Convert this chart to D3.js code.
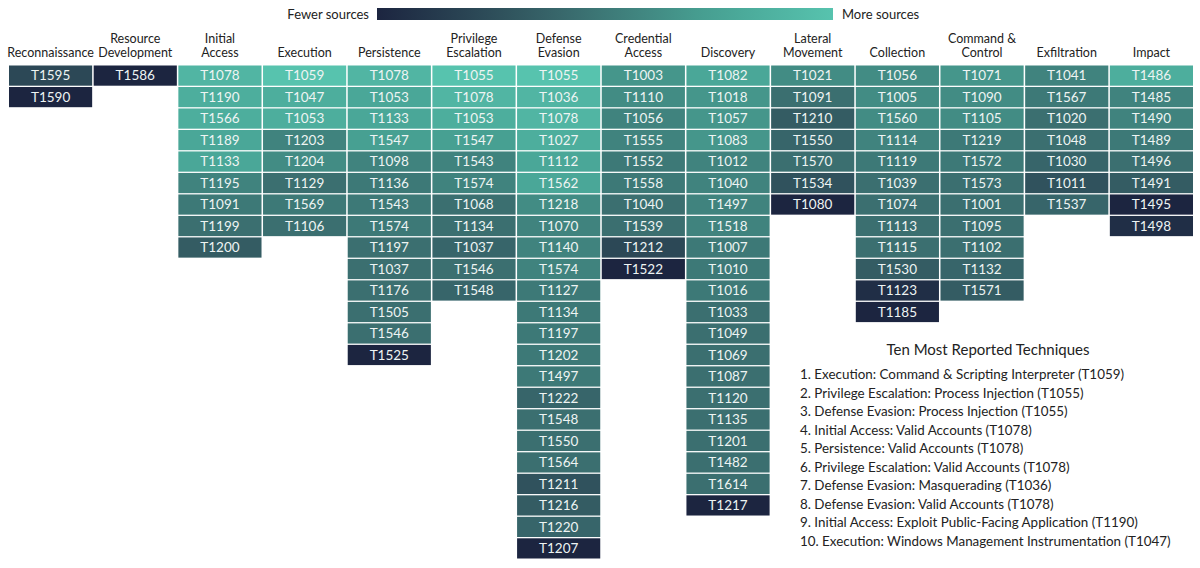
<!DOCTYPE html>
<html><head><meta charset="utf-8">
<script src="https://cdn.jsdelivr.net/npm/d3@7"></script>
<style>body{margin:0;background:#fff;} svg{display:block;}</style>
</head><body>
<svg id="chart" width="1200" height="568"></svg>
<script>
const tactics = ["Reconnaissance","Resource Development","Initial Access","Execution","Persistence","Privilege Escalation","Defense Evasion","Credential Access","Discovery","Lateral Movement","Collection","Command & Control","Exfiltration","Impact"];
const tacticLines = [["Reconnaissance"],["Resource","Development"],["Initial","Access"],["Execution"],["Persistence"],["Privilege","Escalation"],["Defense","Evasion"],["Credential","Access"],["Discovery"],["Lateral","Movement"],["Collection"],["Command &","Control"],["Exfiltration"],["Impact"]];

const reconIds = ["T1595","T1590"], reconVals = [3,1];
const resdevIds = ["T1586"], resdevVals = [1];
const initIds = ["T1078","T1190","T1566","T1189","T1133","T1195","T1091","T1199","T1200"], initVals = [9,8.5,8.5,8,8,6,5.5,5,4];
const execIds = ["T1059","T1047","T1053","T1203","T1204","T1129","T1569","T1106"], execVals = [10,8.5,8.5,6,6.5,5,5.5,5];
const persIds = ["T1078","T1053","T1133","T1547","T1098","T1136","T1543","T1574","T1197","T1037","T1176","T1505","T1546","T1525"], persVals = [9,8,8,7.5,6,5.5,5.5,5.5,5,5,5,5,5,1];
const privIds = ["T1055","T1078","T1053","T1547","T1543","T1574","T1068","T1134","T1037","T1546","T1548"], privVals = [10,9,8.5,7.5,6,6,5,5,4.5,5,4.5];
const defIds = ["T1055","T1036","T1078","T1027","T1112","T1562","T1218","T1070","T1140","T1574","T1127","T1134","T1197","T1202","T1497","T1222","T1548","T1550","T1564","T1211","T1216","T1220","T1207"], defVals = [10,9,9,8.5,8,8,6.5,6,6,6,5.5,5.5,5.5,5.5,5.5,4.5,5,5,5,3.5,4,4.5,1];
const credIds = ["T1003","T1110","T1056","T1555","T1552","T1558","T1040","T1539","T1212","T1522"], credVals = [7,6.5,6,6,5.5,5.5,5,5,3,1];
const discIds = ["T1082","T1018","T1057","T1083","T1012","T1040","T1497","T1518","T1007","T1010","T1016","T1033","T1049","T1069","T1087","T1120","T1135","T1201","T1482","T1614","T1217"], discVals = [8,7,7,7,6,6,6,6,5.5,5.5,5.5,5,5,5,5,5,5,5,5,5,1];
const latIds = ["T1021","T1091","T1210","T1550","T1570","T1534","T1080"], latVals = [6.5,5,4,4.5,5,3.5,1];
const collIds = ["T1056","T1005","T1560","T1114","T1119","T1039","T1074","T1113","T1115","T1530","T1123","T1185"], collVals = [6.5,6.5,6.5,6,5.5,5,5,5,5,4,1.5,1];
const c2Ids = ["T1071","T1090","T1105","T1219","T1572","T1573","T1001","T1095","T1102","T1132","T1571"], c2Vals = [7,6.5,6.5,5.5,5.5,5,5,5,5,4.5,4];
const exfilIds = ["T1041","T1567","T1020","T1048","T1030","T1011","T1537"], exfilVals = [6,5.5,5,5,4.5,3.5,4.5];
const impactIds = ["T1486","T1485","T1490","T1489","T1496","T1491","T1495","T1498"], impactVals = [8.5,6,6,5.5,5,4,1,1.5];

const topTitle = "Ten Most Reported Techniques";
const topTen = [
 "1. Execution: Command & Scripting Interpreter (T1059)",
 "2. Privilege Escalation: Process Injection (T1055)",
 "3. Defense Evasion: Process Injection (T1055)",
 "4. Initial Access: Valid Accounts (T1078)",
 "5. Persistence: Valid Accounts (T1078)",
 "6. Privilege Escalation: Valid Accounts (T1078)",
 "7. Defense Evasion: Masquerading (T1036)",
 "8. Defense Evasion: Valid Accounts (T1078)",
 "9. Initial Access: Exploit Public-Facing Application (T1190)",
 "10. Execution: Windows Management Instrumentation (T1047)"
];
const legendLow = "Fewer sources", legendHigh = "More sources";

const columns = [
 [reconIds,reconVals],[resdevIds,resdevVals],[initIds,initVals],[execIds,execVals],[persIds,persVals],
 [privIds,privVals],[defIds,defVals],[credIds,credVals],[discIds,discVals],[latIds,latVals],
 [collIds,collVals],[c2Ids,c2Vals],[exfilIds,exfilVals],[impactIds,impactVals]
];
const cells = [];
columns.forEach((c,ci)=>c[0].forEach((id,ri)=>cells.push({tactic:tactics[ci],row:ri,id:id,v:c[1][ri]})));

const font = "Lato, 'Source Sans Pro', sans-serif";
const svg = d3.select("#chart");
const maxRows = d3.max(columns, c=>c[0].length);

const x = d3.scaleBand().domain(tactics).range([9, 1193]).paddingInner(0.018).paddingOuter(0);
const y = d3.scaleBand().domain(d3.range(maxRows)).range([65.5, 558.5]).paddingInner(0.06).paddingOuter(0);
const color = d3.scaleLinear().domain([1,3,5,7.5,10])
  .range(["#1c2540","#2c4856","#3b6f70","#47a092","#57c3ae"]).interpolate(d3.interpolateRgb).clamp(true);

// legend gradient
const defs = svg.append("defs");
const grad = defs.append("linearGradient").attr("id","lg");
d3.range(0,1.0001,0.1).forEach(t=>grad.append("stop").attr("offset",t).attr("stop-color",color(1+9*t)));
const lx = d3.scaleLinear().domain([1,10]).range([377,833]);
svg.append("rect").attr("x",lx(1)).attr("y",8).attr("width",lx(10)-lx(1)).attr("height",12).attr("fill","url(#lg)");
svg.append("text").attr("x",lx(1)-8).attr("y",19).attr("text-anchor","end").attr("font-family",font).attr("font-size",13).attr("fill","#222").text(legendLow);
svg.append("text").attr("x",lx(10)+9).attr("y",19).attr("font-family",font).attr("font-size",13).attr("fill","#222").text(legendHigh);

// headers
const hdr = svg.append("g").selectAll("text").data(tactics).join("text")
  .attr("x",d=>x(d)+x.bandwidth()/2).attr("text-anchor","middle")
  .attr("font-family",font).attr("font-size",12.5).attr("fill","#222");
hdr.each(function(d,i){
  const lines = tacticLines[i];
  const t = d3.select(this);
  lines.forEach((l,j)=>t.append("tspan").attr("x",x(d)+x.bandwidth()/2).attr("y",57-(lines.length-1-j)*14).text(l));
});

// cells
const g = svg.append("g");
g.selectAll("rect").data(cells).join("rect")
  .attr("x",d=>x(d.tactic)).attr("y",d=>y(d.row))
  .attr("width",x.bandwidth()).attr("height",y.bandwidth())
  .attr("fill",d=>color(d.v));
g.selectAll("text").data(cells).join("text")
  .attr("x",d=>x(d.tactic)+x.bandwidth()/2).attr("y",d=>y(d.row)+y.bandwidth()/2+4.6)
  .attr("text-anchor","middle").attr("font-family",font).attr("font-size",13.5).attr("fill","#eef4f3")
  .text(d=>d.id);

// top ten list
svg.append("text").attr("x",988).attr("y",355).attr("text-anchor","middle").attr("font-family",font).attr("font-size",15).attr("fill","#222").text(topTitle);
const ly = d3.scalePoint().domain(d3.range(topTen.length)).range([379,546]);
svg.append("g").selectAll("text").data(topTen).join("text")
  .attr("x",800).attr("y",(d,i)=>ly(i)).attr("font-family",font).attr("font-size",13.4).attr("fill","#222").text(d=>d);
</script>
</body></html>
